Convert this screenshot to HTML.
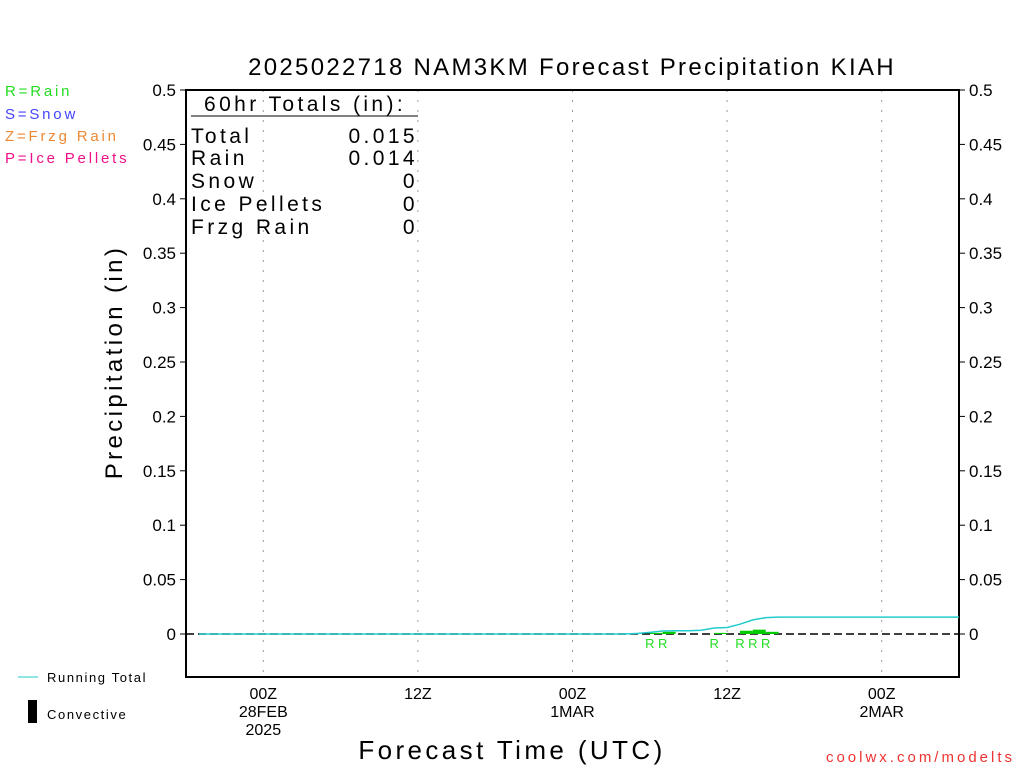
<!DOCTYPE html>
<html><head><meta charset="utf-8"><style>
body{margin:0;background:#fff}
svg text{font-family:"Liberation Sans",sans-serif}
</style></head><body>
<svg id="c" width="1024" height="768" xmlns="http://www.w3.org/2000/svg">
<text x="572" y="75" text-anchor="middle" font-size="24" letter-spacing="2.3" fill="#000">2025022718 NAM3KM Forecast Precipitation KIAH</text>
<g font-size="15" letter-spacing="2.8">
<text x="5" y="96" fill="#22dd22">R=Rain</text>
<text x="5" y="119" fill="#4444ff">S=Snow</text>
<text x="5" y="141" fill="#ee8833">Z=Frzg Rain</text>
<text x="5" y="163" fill="#ee1188">P=Ice Pellets</text>
</g>
<g id="grid"></g>
<rect x="186" y="90" width="773" height="587" fill="none" stroke="#000" stroke-width="2"/>
<g id="ticks" font-size="17"></g>
<text transform="translate(122,362) rotate(-90)" text-anchor="middle" font-size="24" letter-spacing="3.4">Precipitation (in)</text>
<text x="512" y="759" text-anchor="middle" font-size="26" letter-spacing="3.4">Forecast Time (UTC)</text>
<text x="1015" y="762" text-anchor="end" font-size="15" letter-spacing="3" fill="#ee3333">coolwx.com/modelts</text>
<g font-size="21" letter-spacing="3.4">
<text x="204" y="111">60hr Totals (in):</text>
<line x1="191" y1="116" x2="418" y2="116" stroke="#000"/>
<text x="191" y="143">Total</text><text x="418" y="143" text-anchor="end">0.015</text>
<text x="191" y="165">Rain</text><text x="418" y="165" text-anchor="end">0.014</text>
<text x="191" y="188">Snow</text><text x="418" y="188" text-anchor="end">0</text>
<text x="191" y="211">Ice Pellets</text><text x="418" y="211" text-anchor="end">0</text>
<text x="191" y="234">Frzg Rain</text><text x="418" y="234" text-anchor="end">0</text>
</g>
<g>
<line x1="18" y1="677" x2="38" y2="677" stroke="#22cccc"/>
<text x="47" y="682" font-size="13" letter-spacing="1.6">Running Total</text>
<rect x="28" y="700" width="9" height="23" fill="#000"/>
<text x="47" y="719" font-size="13" letter-spacing="1.6">Convective</text>
</g>
<g id="data"></g>
</svg>
<script>
const yTicks=[0,0.05,0.1,0.15,0.2,0.25,0.3,0.35,0.4,0.45,0.5];
const xTickHours=[6,18,30,42,54];
const xTickLabels=[["00Z","28FEB","2025"],["12Z"],["00Z","1MAR"],["12Z"],["00Z","2MAR"]];
const rainHours=[36,37,41,43,44,45];
const rainAmounts=[0.001,0.002,0.001,0.003,0.004,0.002];
const runningTotal=[0,0,0,0,0,0,0,0,0,0,0,0,0,0,0,0,0,0,0,0,0,0,0,0,0,0,0,0,0,0,0,0,0,0,0.0005,0.0015,0.0028,0.003,0.003,0.0035,0.0055,0.006,0.009,0.013,0.015,0.0155,0.0155,0.0155,0.0155,0.0155,0.0155,0.0155,0.0155,0.0155,0.0155,0.0155,0.0155,0.0155,0.0155,0.0155];
const NS="http://www.w3.org/2000/svg";
const X=h=>186+h*(773/60);
const Y=v=>634-v*1088;
function mk(t,a,p){const e=document.createElementNS(NS,t);for(const k in a)e.setAttribute(k,a[k]);p.appendChild(e);return e;}
const grid=document.getElementById('grid'),ticks=document.getElementById('ticks'),data=document.getElementById('data');
xTickHours.forEach((h,i)=>{
 const l=mk('line',{x1:X(h),x2:X(h),y1:90,y2:677,stroke:'#999','stroke-dasharray':'2,8'},grid);
 
 
 xTickLabels[i].forEach((s,j)=>{const t=mk('text',{x:X(h),y:699+j*18,'text-anchor':'middle','font-size':16},ticks);t.textContent=s;
 
 });
});
yTicks.forEach(v=>{
 ['l','r'].forEach(s=>{
  const x=s=='l'?176:969;
  mk('line',{x1:s=='l'?180:959,x2:s=='l'?186:965,y1:Y(v),y2:Y(v),stroke:'#000'},ticks);
  const t=mk('text',{x:x,y:Y(v)+6,'text-anchor':s=='l'?'end':'start'},ticks);t.textContent=String(v);
  
  
 });
});
const z=mk('line',{x1:186,x2:959,y1:Y(0),y2:Y(0),stroke:'#000','stroke-width':1.5,'stroke-dasharray':'8,4'},data);


rainHours.forEach((h,i)=>{
 const b=mk('rect',{x:X(h),y:Y(rainAmounts[i]),width:773/60,height:rainAmounts[i]*1088,fill:'#00cc00'},data);
 
 
 const t=mk('text',{x:X(h),y:648,'text-anchor':'middle','font-size':13,fill:'#22dd22'},data);t.textContent='R';
 
 
});
const pts=runningTotal.map((v,i)=>X(i+1)+','+Y(v)).join(' ');
const pl=mk('polyline',{points:pts,fill:'none',stroke:'#22cccc','stroke-width':1.5},data);


</script>
</body></html>
